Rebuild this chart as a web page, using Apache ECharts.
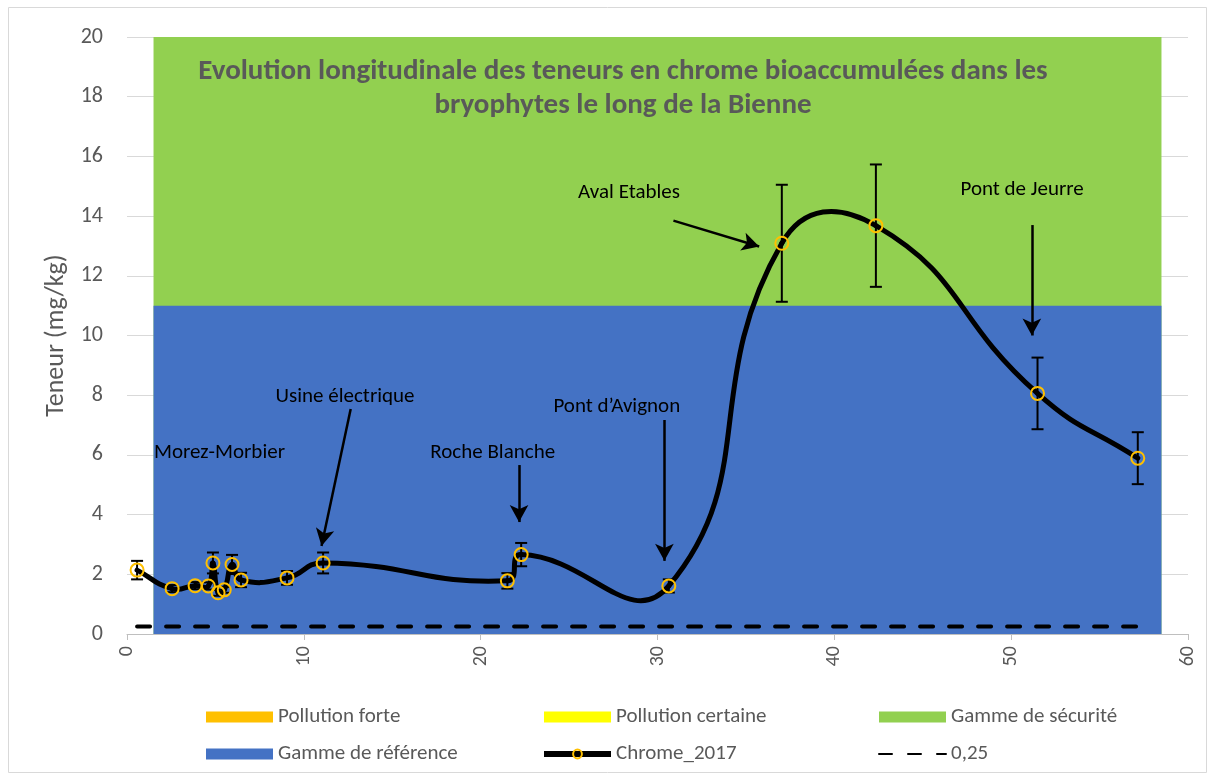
<!DOCTYPE html>
<html>
<head>
<meta charset="utf-8">
<title>Chrome 2017 - Bienne</title>
<script src="https://cdn.jsdelivr.net/npm/echarts@6/dist/echarts.min.js"></script>
<style>
  html, body { margin: 0; padding: 0; background: #fff; }
  #chart { width: 1215px; height: 780px; }
</style>
</head>
<body>
<div id="chart"></div>
<script>
// distance along the river (km) and chrome content (mg/kg)
const distances = [0.57, 2.55, 3.85, 4.6, 4.86, 5.15, 5.5, 5.94, 6.45, 9.05, 11.09, 21.51, 22.29, 30.64, 37.03, 42.35, 51.49, 57.16];
const chrome2017 = [2.14, 1.52, 1.62, 1.61, 2.38, 1.38, 1.48, 2.33, 1.81, 1.88, 2.38, 1.78, 2.66, 1.61, 13.09, 13.68, 8.06, 5.89];
const errors = [0.31, 0.12, 0.12, 0.12, 0.35, 0.1, 0.1, 0.32, 0.24, 0.23, 0.35, 0.26, 0.39, 0.22, 1.96, 2.05, 1.2, 0.87];

const threshold = 0.25;
const bandX = [1.5, 58.5];
const referenceTop = 11;
const securityTop = 20;

const yTicks = [0, 2, 4, 6, 8, 10, 12, 14, 16, 18, 20];
const xTicks = [0, 10, 20, 30, 40, 50, 60];

// site labels: [text, x, y] and arrows: [x0, y0, x1, y1] in data units
const siteLabels = [
  ['Morez-Morbier', 5.23, 6.06],
  ['Usine électrique', 12.33, 7.94],
  ['Roche Blanche', 20.68, 6.06],
  ['Pont d\u2019Avignon', 27.7, 7.6],
  ['Aval Etables', 28.39, 14.77],
  ['Pont de Jeurre', 50.62, 14.87]
];
const siteArrows = [
  [12.65, 7.54, 11.0, 2.95],
  [22.17, 5.66, 22.17, 3.75],
  [30.39, 7.17, 30.39, 2.45],
  [30.9, 13.85, 35.75, 12.98],
  [51.17, 13.7, 51.17, 10.0]
];

const FONT = 'Carlito, Lato, "Liberation Sans", sans-serif';
const TEXT_GREY = '#595959';

const chart = echarts.init(document.getElementById('chart'));

const pointData = distances.map((d, i) => [d, chrome2017[i]]);
const errorData = distances.map((d, i) => [d, chrome2017[i], errors[i]]);

const renderErrorBar = (params, api) => {
  const x = api.value(0);
  const y = api.value(1);
  const e = api.value(2);
  const top = api.coord([x, y + e]);
  const bottom = api.coord([x, y - e]);
  const cap = 6;
  const style = { stroke: '#000', lineWidth: 2 };
  return {
    type: 'group',
    children: [
      { type: 'line', shape: { x1: top[0], y1: top[1], x2: bottom[0], y2: bottom[1] }, style },
      { type: 'line', shape: { x1: top[0] - cap, y1: top[1], x2: top[0] + cap, y2: top[1] }, style },
      { type: 'line', shape: { x1: bottom[0] - cap, y1: bottom[1], x2: bottom[0] + cap, y2: bottom[1] }, style }
    ]
  };
};

// spreadsheet-like smoothed line (no clamping, so it can overshoot between points)
const SMOOTH = 0.5;
const controlPoints = (pts, i) => {
  const p = pts[i];
  const prev = pts[Math.max(i - 1, 0)];
  const next = pts[Math.min(i + 1, pts.length - 1)];
  const vx = next[0] - prev[0];
  const vy = next[1] - prev[1];
  const lenPrev = Math.hypot(p[0] - prev[0], p[1] - prev[1]);
  const lenNext = Math.hypot(next[0] - p[0], next[1] - p[1]);
  const total = lenPrev + lenNext || 1;
  return {
    before: [p[0] - vx * SMOOTH * lenPrev / total, p[1] - vy * SMOOTH * lenPrev / total],
    after: [p[0] + vx * SMOOTH * lenNext / total, p[1] + vy * SMOOTH * lenNext / total]
  };
};

const renderCurveSegment = (params, api) => {
  const i = params.dataIndex;
  if (i >= distances.length - 1) return null;
  const pts = distances.map((d, k) => api.coord([d, chrome2017[k]]));
  const a = controlPoints(pts, i).after;
  const b = controlPoints(pts, i + 1).before;
  return {
    type: 'bezierCurve',
    shape: {
      x1: pts[i][0], y1: pts[i][1],
      x2: pts[i + 1][0], y2: pts[i + 1][1],
      cpx1: a[0], cpy1: a[1],
      cpx2: b[0], cpy2: b[1]
    },
    style: { stroke: '#000', lineWidth: 5, fill: null, lineCap: 'round' }
  };
};

const legendText = { color: TEXT_GREY, fontSize: 21, fontFamily: FONT, lineHeight: 24 };
const legendBase = {
  orient: 'vertical',
  top: 700,
  itemWidth: 67,
  itemHeight: 11,
  itemGap: 13,
  selectedMode: false,
  textStyle: legendText
};

const option = {
  animation: false,
  textStyle: { fontFamily: FONT },
  grid: { left: 127, right: 27, top: 37, bottom: 146 },
  legend: [
    Object.assign({}, legendBase, {
      left: 201,
      data: [
        { name: 'Pollution forte', icon: 'rect', itemStyle: { color: '#FFC000' } },
        { name: 'Gamme de référence', icon: 'rect', itemStyle: { color: '#4472C4' } }
      ]
    }),
    Object.assign({}, legendBase, {
      left: 536,
      data: [
        { name: 'Pollution certaine', icon: 'rect', itemStyle: { color: '#FFFF00' } },
        {
          name: 'Chrome_2017',
          lineStyle: { color: '#000', width: 6, opacity: 1 },
          itemStyle: { color: 'rgba(0,0,0,0)', borderColor: '#FFC000', borderWidth: 2 }
        }
      ]
    }),
    Object.assign({}, legendBase, {
      left: 873,
      data: [
        { name: 'Gamme de sécurité', icon: 'rect', itemStyle: { color: '#92D050' } },
        { name: '0,25', itemStyle: { opacity: 0 } }
      ]
    })
  ],
  xAxis: {
    type: 'value',
    min: xTicks[0],
    max: xTicks[xTicks.length - 1],
    interval: 10,
    axisLine: { show: true, lineStyle: { color: '#bfbfbf', width: 1 } },
    axisTick: { show: true, length: 6, lineStyle: { color: '#bfbfbf' } },
    splitLine: { show: false },
    axisLabel: { rotate: 90, color: TEXT_GREY, fontSize: 20, fontFamily: FONT, margin: 12 }
  },
  yAxis: {
    type: 'value',
    min: yTicks[0],
    max: yTicks[yTicks.length - 1],
    interval: 2,
    name: 'Teneur (mg/kg)',
    nameLocation: 'middle',
    nameGap: 55,
    nameTextStyle: { color: TEXT_GREY, fontSize: 26, fontFamily: FONT },
    axisLine: { show: false },
    axisTick: { show: false },
    splitLine: { lineStyle: { color: '#d9d9d9', width: 1 } },
    axisLabel: { color: TEXT_GREY, fontSize: 22, fontFamily: FONT, margin: 24 }
  },
  graphic: [
    {
      type: 'rect',
      silent: true,
      z: -10,
      shape: { x: 8.5, y: 7.5, width: 1198, height: 765 },
      style: { fill: 'none', stroke: '#d9d9d9', lineWidth: 1 }
    },
    {
      type: 'text',
      z: 100,
      x: 623,
      y: 55,
      style: {
        text: 'Evolution longitudinale des teneurs en chrome bioaccumulées dans les\nbryophytes le long de la Bienne',
        align: 'center',
        verticalAlign: 'top',
        fill: TEXT_GREY,
        font: 'bold 29px ' + FONT,
        lineHeight: 34
      }
    }
  ],
  series: [
    {
      name: 'Gamme de sécurité',
      type: 'line',
      color: '#92D050',
      data: bandX.map(x => [x, securityTop]),
      symbol: 'none',
      lineStyle: { width: 0 },
      areaStyle: { color: '#92D050', opacity: 1 },
      silent: true,
      z: 1
    },
    {
      name: 'Gamme de référence',
      type: 'line',
      color: '#4472C4',
      data: bandX.map(x => [x, referenceTop]),
      symbol: 'none',
      lineStyle: { width: 0 },
      areaStyle: { color: '#4472C4', opacity: 1 },
      silent: true,
      z: 1
    },
    { name: 'Pollution forte', type: 'line', color: '#FFC000', data: [] },
    { name: 'Pollution certaine', type: 'line', color: '#FFFF00', data: [] },
    {
      name: '0,25',
      type: 'line',
      color: '#000',
      data: [[distances[0], threshold], [distances[distances.length - 1], threshold]],
      symbol: 'none',
      lineStyle: { color: '#000', width: 4, type: [13, 16], cap: 'round' },
      z: 3
    },
    {
      name: 'errors',
      type: 'custom',
      data: errorData,
      encode: { x: 0, y: 1 },
      renderItem: renderErrorBar,
      silent: true,
      z: 4
    },
    {
      name: 'curve',
      type: 'custom',
      data: pointData,
      encode: { x: 0, y: 1 },
      renderItem: renderCurveSegment,
      silent: true,
      z: 4
    },
    {
      name: 'Chrome_2017',
      type: 'line',
      data: pointData,
      color: '#000',
      lineStyle: { color: '#000', width: 0 },
      symbol: 'circle',
      symbolSize: 13,
      showAllSymbol: true,
      itemStyle: { color: 'rgba(0,0,0,0)', borderColor: '#FFC000', borderWidth: 2 },
      z: 5
    },
    {
      name: 'annotations',
      type: 'line',
      data: [],
      silent: true,
      markLine: {
        silent: true,
        animation: false,
        symbol: ['none', 'arrow'],
        symbolSize: [14, 17],
        lineStyle: { color: '#000', width: 2.5, type: 'solid' },
        label: { show: false },
        data: siteArrows.map(a => [{ coord: [a[0], a[1]] }, { coord: [a[2], a[3]] }])
      },
      markPoint: {
        silent: true,
        animation: false,
        symbol: 'rect',
        symbolSize: 1,
        itemStyle: { color: 'rgba(0,0,0,0)' },
        label: {
          show: true,
          position: 'inside',
          formatter: '{b}',
          color: '#000',
          fontSize: 21,
          fontFamily: FONT
        },
        data: siteLabels.map(l => ({ name: l[0], coord: [l[1], l[2]] }))
      },
      z: 6
    }
  ]
};

chart.setOption(option);
</script>
</body>
</html>
